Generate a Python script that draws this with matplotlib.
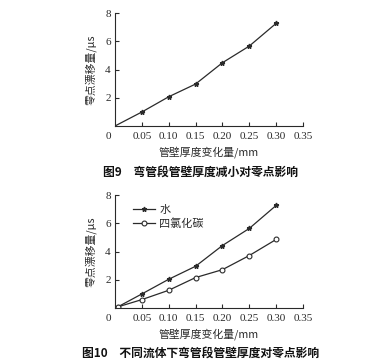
import matplotlib.pyplot as plt

plt.rcParams['font.family'] = ['Liberation Serif', 'Noto Sans CJK SC']
plt.rcParams['axes.unicode_minus'] = False

# data
thick = [0.0, 0.05, 0.10, 0.15, 0.20, 0.25, 0.30]
drift9 = [0.0, 0.99, 2.07, 2.97, 4.48, 5.66, 7.27]

thick10 = [0.005, 0.05, 0.10, 0.15, 0.20, 0.25, 0.30]
water = [0.08, 1.0, 2.04, 2.96, 4.43, 5.64, 7.27]
ccl4 = [0.08, 0.6, 1.26, 2.16, 2.72, 3.72, 4.86]

xticks = [0.05, 0.10, 0.15, 0.20, 0.25, 0.30, 0.35]
xticklabels = ['0.05', '0.10', '0.15', '0.20', '0.25', '0.30', '0.35']
yticks = [2, 4, 6, 8]

ink = '#2a2a2a'
cjk = ['Noto Sans CJK SC', 'DejaVu Sans']

fig = plt.figure(figsize=(3.75, 3.62), dpi=100)
ax1 = fig.add_axes([0.3067, 0.652, 0.5013, 0.312])
ax2 = fig.add_axes([0.3067, 0.149, 0.5013, 0.312])


def style(ax):
    ax.set_xlim(0, 0.35)
    ax.set_ylim(0, 8)
    for s in ['top', 'right']:
        ax.spines[s].set_visible(False)
    for s in ['left', 'bottom']:
        ax.spines[s].set_linewidth(0.8)
        ax.spines[s].set_color(ink)
    ax.set_xticks(xticks)
    ax.set_xticklabels(xticklabels)
    ax.set_yticks(yticks)
    ax.tick_params(direction='in', length=3, width=0.8, colors=ink,
                   labelsize=8, pad=4)
    ax.tick_params(axis='y', pad=3)
    ax.annotate('0', xy=(0, 0), xytext=(-5, -4), textcoords='offset points',
                ha='center', va='top', fontsize=8, color=ink,
                annotation_clip=False)
    ax.set_xlabel('管壁厚度变化量/mm', fontsize=7.8, color=ink, labelpad=4,
                  family=['Noto Sans CJK SC', 'Liberation Serif'])
    ax.set_ylabel('零点漂移量/μs', fontsize=7.8, color=ink, labelpad=6,
                  family=['Noto Sans CJK SC', 'Liberation Serif'])


# Figure 9
ax1.plot(thick, drift9, color=ink, linewidth=0.9, marker='*',
         markersize=3.5, markevery=list(range(1, len(thick))))
style(ax1)
fig.text(0.535, 0.525, '图9　弯管段管壁厚度减小对零点影响', ha='center',
         va='center', fontsize=8.5, fontweight='bold', color='#111',
         family=cjk)

# Figure 10
ax2.plot(thick10, water, color=ink, linewidth=0.9, marker='*',
         markersize=3.5, label='水')
ax2.plot(thick10, ccl4, color=ink, linewidth=0.9, marker='o',
         markersize=3.5, markerfacecolor='white', markeredgewidth=0.8,
         label='四氯化碳')
style(ax2)
leg = ax2.legend(loc='upper left', bbox_to_anchor=(0.04, 1.0), frameon=False,
                 handlelength=2.0, handletextpad=0.4,
                 labelspacing=0.25, prop={'family': cjk, 'size': 8})
for t in leg.get_texts():
    t.set_color(ink)
fig.text(0.535, 0.025, '图10　不同流体下弯管段管壁厚度对零点影响', ha='center',
         va='center', fontsize=8.5, fontweight='bold', color='#111',
         family=cjk)

fig.savefig('out.png', dpi=100)
